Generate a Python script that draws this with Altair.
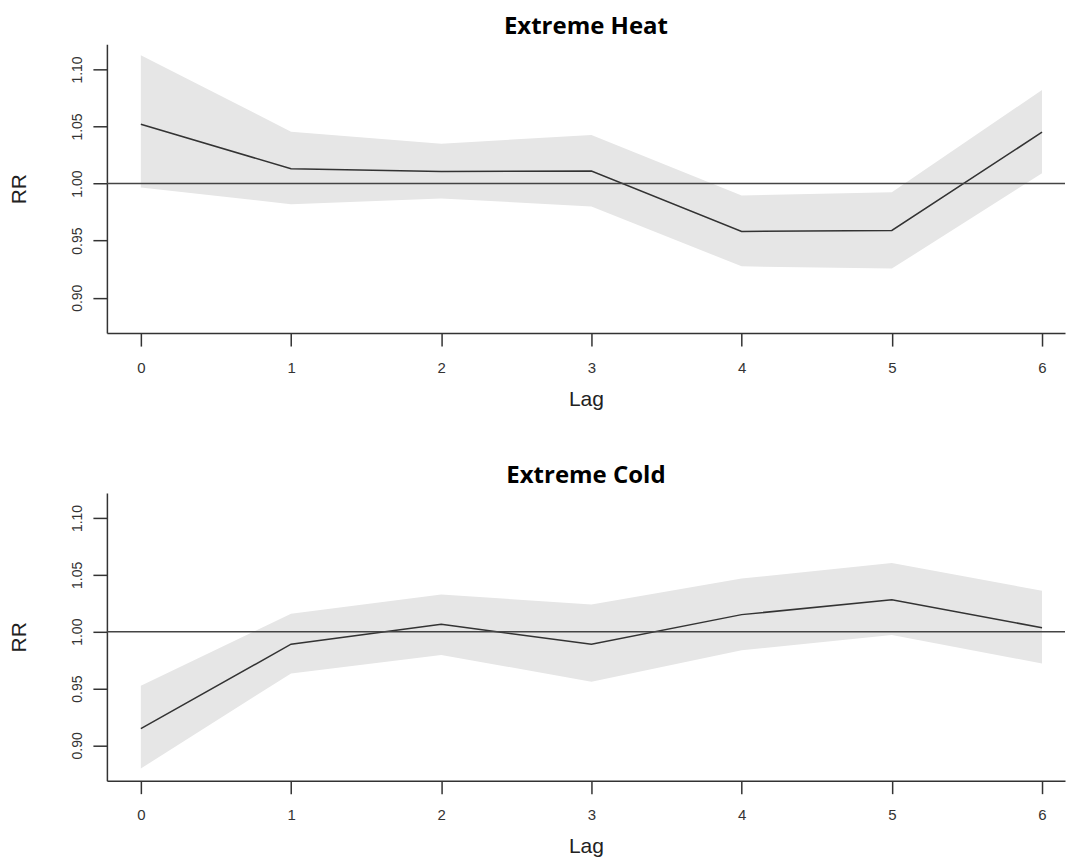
import altair as alt
import pandas as pd

lags = [0, 1, 2, 3, 4, 5, 6]

heat_rr = [1.052, 1.013, 1.0105, 1.011, 0.958, 0.959, 1.045]
heat_lo = [0.9965, 0.982, 0.987, 0.980, 0.9275, 0.9255, 1.009]
heat_hi = [1.1125, 1.0455, 1.035, 1.0425, 0.9895, 0.9925, 1.082]

cold_rr = [0.9147, 0.989, 1.0065, 0.989, 1.015, 1.028, 1.0035]
cold_lo = [0.8797, 0.9633, 0.9796, 0.956, 0.9837, 0.997, 0.972]
cold_hi = [0.9525, 1.0157, 1.0327, 1.024, 1.0467, 1.0603, 1.036]

y_ticks = [0.90, 0.95, 1.00, 1.05, 1.10]
x_ticks = lags

FONT = "Liberation Sans"
INK = "#333333"


def panel(title, rr, lo, hi, h):
    df = pd.DataFrame({"Lag": lags, "RR": rr, "lo": lo, "hi": hi})
    x = alt.X(
        "Lag:Q",
        scale=alt.Scale(domain=[-0.226, 6.153], nice=False, zero=False),
        axis=alt.Axis(
            values=x_ticks, format="d", title="Lag", grid=False,
            tickSize=13, labelPadding=14, labelFontSize=15, labelFont=FONT,
            labelColor=INK, titleFont=FONT, titleFontSize=21,
            titleFontWeight="normal", titleColor="#222222",
            titleY=72, titleBaseline="alphabetic",
            domainColor=INK, tickColor=INK, domainWidth=1.5, tickWidth=1.5,
        ),
    )
    yscale = alt.Scale(domain=[0.869, 1.122], nice=False, zero=False)
    yaxis = alt.Axis(
        values=y_ticks, format=".2f", title="RR", grid=False,
        tickSize=14, labelPadding=8, labelAngle=270, labelAlign="center",
        labelBaseline="bottom", labelFontSize=14, labelFont=FONT,
        labelColor=INK, titleFont=FONT, titleFontSize=21,
        titleFontWeight="normal", titleColor="#222222", titleAngle=270,
        titleX=-87, titleY=h / 2, titleAlign="center", titleBaseline="middle",
        domainColor=INK, tickColor=INK, domainWidth=1.5, tickWidth=1.5,
    )
    band = alt.Chart(df).mark_area(color="#e6e6e6", opacity=1, clip=True).encode(
        x=x, y=alt.Y("lo:Q", scale=yscale, axis=yaxis), y2="hi:Q"
    )
    line = alt.Chart(df).mark_line(color=INK, strokeWidth=1.5, clip=True).encode(
        x="Lag:Q", y="RR:Q"
    )
    ref = alt.Chart(pd.DataFrame({"v": [1.0]})).mark_rule(
        color="#444444", strokeWidth=1.5
    ).encode(y="v:Q")
    return alt.layer(band, line, ref).properties(
        width=959, height=h,
        title=alt.TitleParams(
            title, font="Open Sans", fontSize=24, fontWeight="bold",
            color="#000000", anchor="middle", baseline="alphabetic", offset=10,
            dy=24,
        ),
    )


top = panel("Extreme Heat", heat_rr, heat_lo, heat_hi, 289)
bottom = panel("Extreme Cold", cold_rr, cold_lo, cold_hi, 288)

chart = alt.vconcat(top, bottom, spacing=160, bounds="flush").properties(
    padding={"left": 9, "top": 15, "right": 0, "bottom": 0},
    background="white",
).configure_view(stroke="transparent", strokeWidth=0)

chart.save("out.html", embed_options={"renderer": "svg", "actions": False})
